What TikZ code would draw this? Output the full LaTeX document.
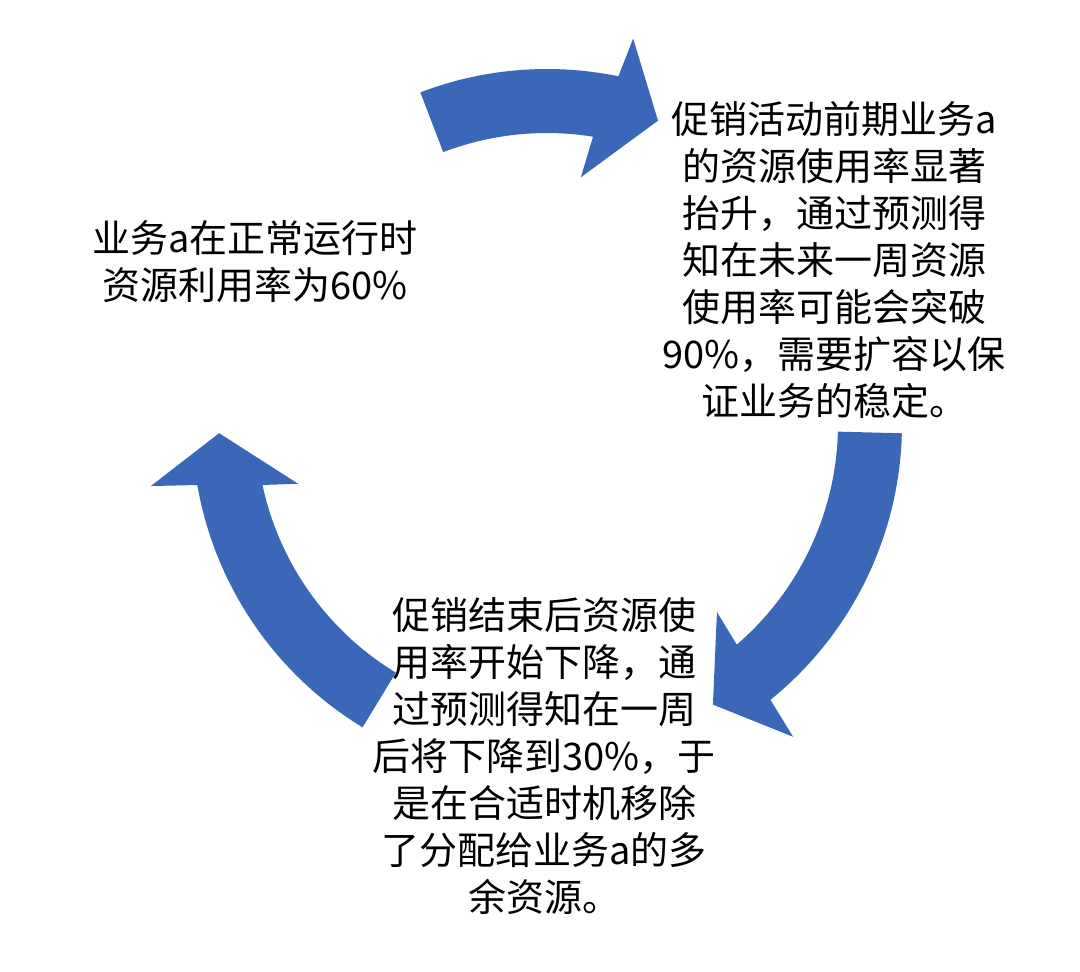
\documentclass[tikz,border=0pt]{standalone}
\usepackage{fontspec}
\newfontfamily\cjk{Noto Sans CJK SC}
\definecolor{arrowblue}{RGB}{59,103,185}
\tikzset{
  arrowfill/.style={fill=arrowblue, draw=none},
  cyctext/.style={align=center, inner sep=0pt, font=\cjk\fontsize{28.5}{35.3}\selectfont, text=black}
}
\begin{document}
\begin{tikzpicture}[x=0.75pt,y=0.75pt]
\useasboundingbox (0,0) rectangle (1080,-971);
\begin{scope}[shift={(547,-424)}]
% top arrow
\fill[arrowfill] plot[domain=110.9:78.4,samples=40] (\x:355)
  -- (77.4:395) -- (69.9:323) -- (82.2:249) -- (80.9:291)
  -- plot[domain=80.9:110.9,samples=40] (\x:291) -- cycle;
% right arrow
\fill[arrowfill] plot[domain=-1.5:-51,samples=40] (\x:355)
  -- (-51.8:398) -- (-59.4:326) -- (-47.9:253.5) -- (-49.3:291)
  -- plot[domain=-49.3:-1.5,samples=40] (\x:291) -- cycle;
% left arrow
\fill[arrowfill] plot[domain=238.7:189.9,samples=40] (\x:355)
  -- (188.9:401) -- (181.6:328) -- (193.5:256) -- (192.1:291)
  -- plot[domain=192.1:238.7,samples=40] (\x:291) -- cycle;
\end{scope}
\node[cyctext] (normal) at (255,-262) {业务a在正常运行时\\资源利用率为60\%};
\node[cyctext] (promo) at (834,-260) {促销活动前期业务a\\的资源使用率显著\\抬升，通过预测得\\知在未来一周资源\\使用率可能会突破\\90\%，需要扩容以保\\证业务的稳定。};
\node[cyctext] (after) at (544,-756) {促销结束后资源使\\用率开始下降，通\\过预测得知在一周\\后将下降到30\%，于\\是在合适时机移除\\了分配给业务a的多\\余资源。};
\end{tikzpicture}
\end{document}
